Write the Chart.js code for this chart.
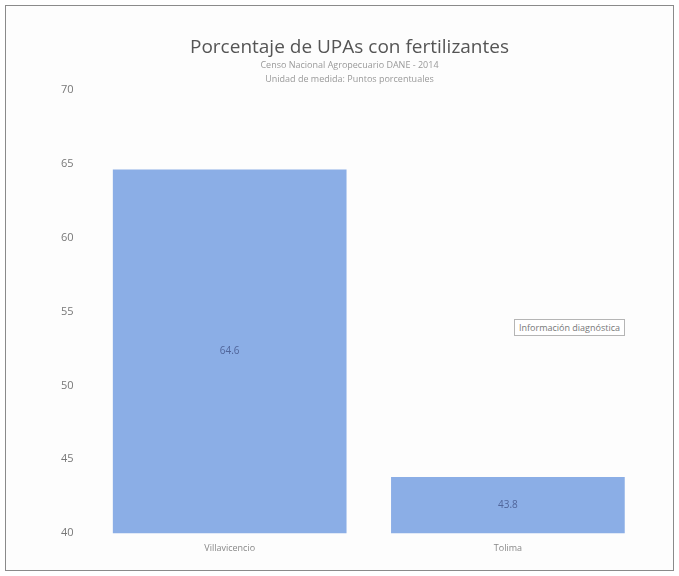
<!DOCTYPE html>
<html>
<head>
<meta charset="utf-8">
<script src="https://cdn.jsdelivr.net/npm/chart.js@4.4.0/dist/chart.umd.min.js"></script>
<style>
  html, body { margin: 0; padding: 0; background: #fff; }
  #wrap { position: relative; width: 667px; height: 564px; margin: 5px; border: 1px solid #8a8a8a; background: #fdfdfd; }
  #note { position: absolute; left: 508px; top: 313px; border: 1px solid #b5b5b5; padding: 1px 4px; font: 9px "Open Sans", sans-serif; color: #777; background: #fff; }
</style>
</head>
<body>
<div id="wrap">
  <canvas id="chart" width="667" height="564"></canvas>
  <div id="note">Información diagnóstica</div>
</div>
<script>
// datos
const categorias = ['Villavicencio', 'Tolima'];
const valores = [64.6, 43.8];
const ticksY = [40, 45, 50, 55, 60, 65, 70];
const minY = 40;
const maxY = 70;

// etiquetas dentro de las barras
const etiquetasBarras = {
  id: 'etiquetasBarras',
  afterDraw(chart) {
    const ctx = chart.ctx;
    const sx = chart.scales.x;
    const sy = chart.scales.y;
    ctx.save();
    ctx.font = '10px "Open Sans", sans-serif';
    ctx.fillStyle = '#50659a';
    ctx.textAlign = 'center';
    ctx.textBaseline = 'middle';
    valores.forEach((v, i) => {
      const x = sx.getPixelForValue(i);
      const y = (sy.getPixelForValue(v) + sy.getPixelForValue(minY)) / 2;
      ctx.fillText(v.toFixed(1), x, y);
    });
    ctx.restore();
  }
};

new Chart(document.getElementById('chart'), {
  type: 'bar',
  data: {
    labels: categorias,
    datasets: [{
      data: valores,
      backgroundColor: 'rgb(139, 174, 230)',
      borderWidth: 0,
      barPercentage: 0.84,
      categoryPercentage: 1
    }]
  },
  options: {
    responsive: false,
    animation: false,
    layout: { padding: { left: 46, right: 26, top: 8, bottom: 14 } },
    plugins: {
      legend: { display: false },
      tooltip: { enabled: false },
      title: {
        display: true,
        text: 'Porcentaje de UPAs con fertilizantes',
        color: '#555',
        font: { family: '"Open Sans", sans-serif', size: 19, weight: 'normal' },
        padding: { top: 22, bottom: 0 }
      },
      subtitle: {
        display: true,
        text: ['Censo Nacional Agropecuario DANE - 2014', 'Unidad de medida: Puntos porcentuales'],
        color: '#999',
        font: { family: '"Open Sans", sans-serif', size: 9, lineHeight: 1.5 },
        padding: { bottom: 4 }
      }
    },
    scales: {
      y: {
        min: minY,
        max: maxY,
        afterBuildTicks(axis) { axis.ticks = ticksY.map(v => ({ value: v })); },
        grid: { display: false },
        border: { display: false },
        ticks: { color: '#777', padding: 9, font: { family: '"Open Sans", sans-serif', size: 11 } }
      },
      x: {
        grid: { display: false },
        border: { display: false },
        ticks: { color: '#888', padding: 2, font: { family: '"Open Sans", sans-serif', size: 9 } }
      }
    }
  },
  plugins: [etiquetasBarras]
});
</script>
</body>
</html>
